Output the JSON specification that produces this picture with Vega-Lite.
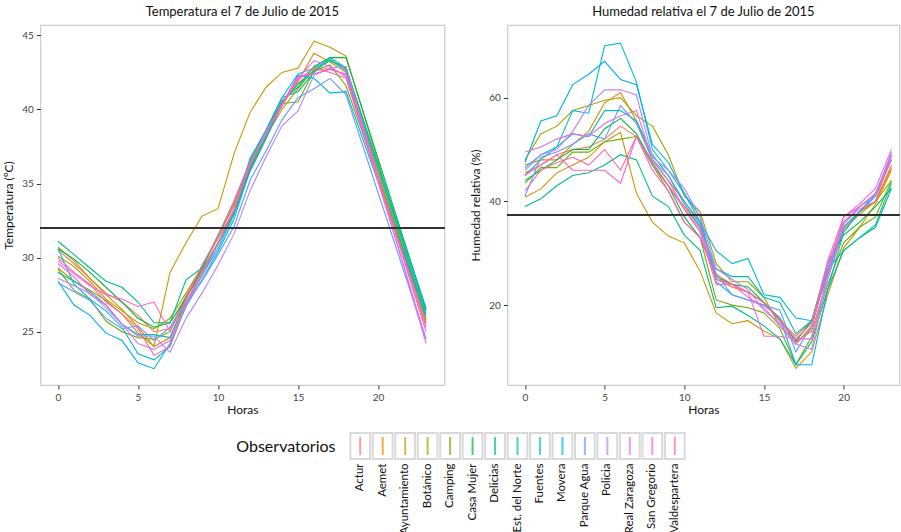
{
  "$schema": "https://vega.github.io/schema/vega-lite/v6.json",
  "background": "white",
  "padding": {"left": 2, "top": 5, "right": 0, "bottom": 0},
  "data": {"values": [
{"s":"Actur","h":0,"t":30.5,"r":45.5},{"s":"Actur","h":1,"t":29.6,"r":47},{"s":"Actur","h":2,"t":28.6,"r":49},{"s":"Actur","h":3,"t":27.6,"r":50},{"s":"Actur","h":4,"t":27.0,"r":50.5},{"s":"Actur","h":5,"t":26.1,"r":52},{"s":"Actur","h":6,"t":25.0,"r":54.5},{"s":"Actur","h":7,"t":25.2,"r":52.5},{"s":"Actur","h":8,"t":27.4,"r":47},{"s":"Actur","h":9,"t":29.4,"r":43},{"s":"Actur","h":10,"t":31.4,"r":39},{"s":"Actur","h":11,"t":33.6,"r":35},{"s":"Actur","h":12,"t":36.3,"r":26},{"s":"Actur","h":13,"t":38.6,"r":24},{"s":"Actur","h":14,"t":40.5,"r":22.5},{"s":"Actur","h":15,"t":41.8,"r":20.5},{"s":"Actur","h":16,"t":42.6,"r":17},{"s":"Actur","h":17,"t":42.8,"r":14},{"s":"Actur","h":18,"t":42.3,"r":17},{"s":"Actur","h":19,"r":26},{"s":"Actur","h":20,"r":35},{"s":"Actur","h":21,"r":38},{"s":"Actur","h":22,"r":40},{"s":"Actur","h":23,"t":25.3,"r":47},
{"s":"Aemet","h":0,"t":30.7,"r":47},{"s":"Aemet","h":1,"t":29.8,"r":48},{"s":"Aemet","h":2,"t":28.6,"r":48},{"s":"Aemet","h":3,"t":27.5,"r":51},{"s":"Aemet","h":4,"t":26.5,"r":53.5},{"s":"Aemet","h":5,"t":25.3,"r":59},{"s":"Aemet","h":6,"t":24.0,"r":61},{"s":"Aemet","h":7,"t":24.6,"r":55.5},{"s":"Aemet","h":8,"t":27.2,"r":48},{"s":"Aemet","h":9,"t":29.3,"r":44},{"s":"Aemet","h":10,"t":31.5,"r":40},{"s":"Aemet","h":11,"t":33.5,"r":36},{"s":"Aemet","h":12,"t":36.5,"r":25},{"s":"Aemet","h":13,"t":38.5,"r":23.5},{"s":"Aemet","h":14,"t":40.4,"r":22.5},{"s":"Aemet","h":15,"t":41.9,"r":20.5},{"s":"Aemet","h":16,"t":43.8,"r":17.5},{"s":"Aemet","h":17,"t":43.2,"r":13},{"s":"Aemet","h":18,"t":42.5,"r":15},{"s":"Aemet","h":19,"r":25},{"s":"Aemet","h":20,"r":34.5},{"s":"Aemet","h":21,"r":37.5},{"s":"Aemet","h":22,"r":40},{"s":"Aemet","h":23,"t":25.6,"r":46.5},
{"s":"Ayuntamiento","h":0,"t":29.3,"r":40.8},{"s":"Ayuntamiento","h":1,"t":28.4,"r":42.4},{"s":"Ayuntamiento","h":2,"t":27.8,"r":45.5},{"s":"Ayuntamiento","h":3,"t":27.1,"r":47},{"s":"Ayuntamiento","h":4,"t":26.2,"r":48.5},{"s":"Ayuntamiento","h":5,"t":24.9,"r":51.5},{"s":"Ayuntamiento","h":6,"t":24.0,"r":53.3},{"s":"Ayuntamiento","h":7,"t":29.0,"r":41.5},{"s":"Ayuntamiento","h":8,"t":31.0,"r":36},{"s":"Ayuntamiento","h":9,"t":32.8,"r":33.3},{"s":"Ayuntamiento","h":10,"t":33.3,"r":32},{"s":"Ayuntamiento","h":11,"t":37.0,"r":26.5},{"s":"Ayuntamiento","h":12,"t":39.8,"r":18.5},{"s":"Ayuntamiento","h":13,"t":41.5,"r":16.4},{"s":"Ayuntamiento","h":14,"t":42.5,"r":17},{"s":"Ayuntamiento","h":15,"t":42.8,"r":15},{"s":"Ayuntamiento","h":16,"t":44.6,"r":13.5},{"s":"Ayuntamiento","h":17,"t":44.2,"r":7.8},{"s":"Ayuntamiento","h":18,"t":43.6,"r":11},{"s":"Ayuntamiento","h":19,"r":22},{"s":"Ayuntamiento","h":20,"r":31},{"s":"Ayuntamiento","h":21,"r":35},{"s":"Ayuntamiento","h":22,"r":39.5},{"s":"Ayuntamiento","h":23,"t":25.8,"r":46},
{"s":"Botánico","h":0,"t":30.1,"r":48},{"s":"Botánico","h":1,"t":29.4,"r":53},{"s":"Botánico","h":2,"t":28.4,"r":54.5},{"s":"Botánico","h":3,"t":27.2,"r":57.5},{"s":"Botánico","h":4,"t":26.4,"r":58.5},{"s":"Botánico","h":5,"t":25.6,"r":59.5},{"s":"Botánico","h":6,"t":25.2,"r":60},{"s":"Botánico","h":7,"t":25.9,"r":56.5},{"s":"Botánico","h":8,"t":27.6,"r":54.5},{"s":"Botánico","h":9,"t":29.4,"r":49},{"s":"Botánico","h":10,"t":31.3,"r":41},{"s":"Botánico","h":11,"t":33.2,"r":38},{"s":"Botánico","h":12,"t":36.0,"r":28},{"s":"Botánico","h":13,"t":38.2,"r":24.5},{"s":"Botánico","h":14,"t":40.0,"r":24.5},{"s":"Botánico","h":15,"t":41.4,"r":21.5},{"s":"Botánico","h":16,"t":42.7,"r":16},{"s":"Botánico","h":17,"t":43.3,"r":12.5},{"s":"Botánico","h":18,"t":42.7,"r":16},{"s":"Botánico","h":19,"r":27},{"s":"Botánico","h":20,"r":35},{"s":"Botánico","h":21,"r":38},{"s":"Botánico","h":22,"r":40},{"s":"Botánico","h":23,"t":25.8,"r":44},
{"s":"Camping","h":0,"t":29.2,"r":43.5},{"s":"Camping","h":1,"t":27.8,"r":46.5},{"s":"Camping","h":2,"t":27.2,"r":46.5},{"s":"Camping","h":3,"t":25.7,"r":49.5},{"s":"Camping","h":4,"t":25.0,"r":49.5},{"s":"Camping","h":5,"t":24.6,"r":51.5},{"s":"Camping","h":6,"t":24.5,"r":52},{"s":"Camping","h":7,"t":25.0,"r":52.5},{"s":"Camping","h":8,"t":27.3,"r":47},{"s":"Camping","h":9,"t":29.0,"r":42},{"s":"Camping","h":10,"t":30.9,"r":36},{"s":"Camping","h":11,"t":33.0,"r":33},{"s":"Camping","h":12,"t":35.8,"r":21},{"s":"Camping","h":13,"t":38.0,"r":20},{"s":"Camping","h":14,"t":40.4,"r":19.5},{"s":"Camping","h":15,"t":40.5,"r":18.5},{"s":"Camping","h":16,"t":42.6,"r":15.5},{"s":"Camping","h":17,"t":43.0,"r":8.5},{"s":"Camping","h":18,"t":41.6,"r":14},{"s":"Camping","h":19,"r":24},{"s":"Camping","h":20,"r":32},{"s":"Camping","h":21,"r":35},{"s":"Camping","h":22,"r":37},{"s":"Camping","h":23,"t":26.2,"r":44},
{"s":"Casa Mujer","h":0,"t":30.6,"r":44},{"s":"Casa Mujer","h":1,"t":29.9,"r":46},{"s":"Casa Mujer","h":2,"t":29.0,"r":48},{"s":"Casa Mujer","h":3,"t":28.0,"r":50},{"s":"Casa Mujer","h":4,"t":27.0,"r":50},{"s":"Casa Mujer","h":5,"t":25.9,"r":54},{"s":"Casa Mujer","h":6,"t":25.3,"r":56},{"s":"Casa Mujer","h":7,"t":25.6,"r":53},{"s":"Casa Mujer","h":8,"t":27.3,"r":47.5},{"s":"Casa Mujer","h":9,"t":29.2,"r":43},{"s":"Casa Mujer","h":10,"t":31.0,"r":37},{"s":"Casa Mujer","h":11,"t":33.1,"r":33},{"s":"Casa Mujer","h":12,"t":36.1,"r":25.5},{"s":"Casa Mujer","h":13,"t":38.5,"r":24},{"s":"Casa Mujer","h":14,"t":40.6,"r":23.5},{"s":"Casa Mujer","h":15,"t":41.5,"r":20.5},{"s":"Casa Mujer","h":16,"t":42.9,"r":17},{"s":"Casa Mujer","h":17,"t":43.5,"r":13},{"s":"Casa Mujer","h":18,"t":43.5,"r":17},{"s":"Casa Mujer","h":19,"r":28},{"s":"Casa Mujer","h":20,"r":33.5},{"s":"Casa Mujer","h":21,"r":36},{"s":"Casa Mujer","h":22,"r":39},{"s":"Casa Mujer","h":23,"t":26.5,"r":42.5},
{"s":"Delicias","h":0,"t":31.1,"r":39},{"s":"Delicias","h":1,"t":30.2,"r":40.5},{"s":"Delicias","h":2,"t":29.3,"r":43},{"s":"Delicias","h":3,"t":28.4,"r":45},{"s":"Delicias","h":4,"t":28.0,"r":45.5},{"s":"Delicias","h":5,"t":27.0,"r":47},{"s":"Delicias","h":6,"t":25.6,"r":49},{"s":"Delicias","h":7,"t":25.6,"r":48},{"s":"Delicias","h":8,"t":28.5,"r":41},{"s":"Delicias","h":9,"t":29.3,"r":39},{"s":"Delicias","h":10,"t":31.5,"r":33.5},{"s":"Delicias","h":11,"t":33.8,"r":30.5},{"s":"Delicias","h":12,"t":36.5,"r":19.5},{"s":"Delicias","h":13,"t":38.6,"r":19.8},{"s":"Delicias","h":14,"t":40.8,"r":18},{"s":"Delicias","h":15,"t":41.2,"r":16},{"s":"Delicias","h":16,"t":42.5,"r":13.5},{"s":"Delicias","h":17,"t":43.5,"r":8.5},{"s":"Delicias","h":18,"t":42.8,"r":13},{"s":"Delicias","h":19,"r":23},{"s":"Delicias","h":20,"r":30.5},{"s":"Delicias","h":21,"r":33},{"s":"Delicias","h":22,"r":35},{"s":"Delicias","h":23,"t":26.4,"r":42.5},
{"s":"Est. del Norte","h":0,"t":29.0,"r":45},{"s":"Est. del Norte","h":1,"t":28.4,"r":48},{"s":"Est. del Norte","h":2,"t":27.7,"r":50.5},{"s":"Est. del Norte","h":3,"t":26.8,"r":53},{"s":"Est. del Norte","h":4,"t":25.5,"r":52.5},{"s":"Est. del Norte","h":5,"t":24.8,"r":57.5},{"s":"Est. del Norte","h":6,"t":24.8,"r":57.5},{"s":"Est. del Norte","h":7,"t":24.6,"r":55.5},{"s":"Est. del Norte","h":8,"t":27.0,"r":49},{"s":"Est. del Norte","h":9,"t":28.8,"r":45},{"s":"Est. del Norte","h":10,"t":30.9,"r":39.5},{"s":"Est. del Norte","h":11,"t":32.9,"r":35},{"s":"Est. del Norte","h":12,"t":35.9,"r":27},{"s":"Est. del Norte","h":13,"t":38.2,"r":25.5},{"s":"Est. del Norte","h":14,"t":40.5,"r":25.5},{"s":"Est. del Norte","h":15,"t":41.7,"r":21.5},{"s":"Est. del Norte","h":16,"t":42.6,"r":20.5},{"s":"Est. del Norte","h":17,"t":43.3,"r":14.5},{"s":"Est. del Norte","h":18,"t":42.8,"r":17},{"s":"Est. del Norte","h":19,"r":27},{"s":"Est. del Norte","h":20,"r":30.5},{"s":"Est. del Norte","h":21,"r":33},{"s":"Est. del Norte","h":22,"r":35.5},{"s":"Est. del Norte","h":23,"t":26.6,"r":43.5},
{"s":"Fuentes","h":0,"t":30.6,"r":46.5},{"s":"Fuentes","h":1,"t":28.2,"r":49},{"s":"Fuentes","h":2,"t":27.2,"r":50.5},{"s":"Fuentes","h":3,"t":26.4,"r":57.5},{"s":"Fuentes","h":4,"t":25.3,"r":57},{"s":"Fuentes","h":5,"t":23.5,"r":70},{"s":"Fuentes","h":6,"t":23.1,"r":70.5},{"s":"Fuentes","h":7,"t":24.0,"r":63},{"s":"Fuentes","h":8,"t":26.8,"r":50},{"s":"Fuentes","h":9,"t":28.8,"r":46},{"s":"Fuentes","h":10,"t":30.6,"r":41.5},{"s":"Fuentes","h":11,"t":32.9,"r":36},{"s":"Fuentes","h":12,"t":36.7,"r":30.5},{"s":"Fuentes","h":13,"t":38.6,"r":28},{"s":"Fuentes","h":14,"t":40.8,"r":29},{"s":"Fuentes","h":15,"t":42.4,"r":22},{"s":"Fuentes","h":16,"t":42.8,"r":21.5},{"s":"Fuentes","h":17,"t":43.4,"r":17.5},{"s":"Fuentes","h":18,"t":42.6,"r":17},{"s":"Fuentes","h":19,"r":26},{"s":"Fuentes","h":20,"r":35},{"s":"Fuentes","h":21,"r":38},{"s":"Fuentes","h":22,"r":41},{"s":"Fuentes","h":23,"t":26.2,"r":48},
{"s":"Movera","h":0,"t":28.4,"r":47.5},{"s":"Movera","h":1,"t":26.8,"r":55.5},{"s":"Movera","h":2,"t":26.1,"r":56.5},{"s":"Movera","h":3,"t":24.9,"r":62.5},{"s":"Movera","h":4,"t":24.4,"r":64.5},{"s":"Movera","h":5,"t":22.9,"r":67},{"s":"Movera","h":6,"t":22.5,"r":63.5},{"s":"Movera","h":7,"t":24.2,"r":62.5},{"s":"Movera","h":8,"t":26.7,"r":51},{"s":"Movera","h":9,"t":28.5,"r":47.5},{"s":"Movera","h":10,"t":30.4,"r":41.5},{"s":"Movera","h":11,"t":32.6,"r":37},{"s":"Movera","h":12,"t":35.9,"r":24.5},{"s":"Movera","h":13,"t":38.1,"r":22},{"s":"Movera","h":14,"t":40.3,"r":21},{"s":"Movera","h":15,"t":42.3,"r":20},{"s":"Movera","h":16,"t":42.1,"r":17.5},{"s":"Movera","h":17,"t":41.1,"r":8.5},{"s":"Movera","h":18,"t":41.2,"r":8.5},{"s":"Movera","h":19,"r":23},{"s":"Movera","h":20,"r":34},{"s":"Movera","h":21,"r":38},{"s":"Movera","h":22,"r":41.5},{"s":"Movera","h":23,"t":26.0,"r":49},
{"s":"Parque Agua","h":0,"t":28.3,"r":41},{"s":"Parque Agua","h":1,"t":27.7,"r":48.5},{"s":"Parque Agua","h":2,"t":27.1,"r":49.5},{"s":"Parque Agua","h":3,"t":25.9,"r":51},{"s":"Parque Agua","h":4,"t":25.2,"r":53},{"s":"Parque Agua","h":5,"t":25.4,"r":52},{"s":"Parque Agua","h":6,"t":24.4,"r":58.5},{"s":"Parque Agua","h":7,"t":25.3,"r":55},{"s":"Parque Agua","h":8,"t":26.9,"r":48},{"s":"Parque Agua","h":9,"t":28.4,"r":45},{"s":"Parque Agua","h":10,"t":30.2,"r":40},{"s":"Parque Agua","h":11,"t":32.1,"r":35.5},{"s":"Parque Agua","h":12,"t":35.2,"r":26},{"s":"Parque Agua","h":13,"t":37.2,"r":22},{"s":"Parque Agua","h":14,"t":39.3,"r":21},{"s":"Parque Agua","h":15,"t":40.8,"r":20},{"s":"Parque Agua","h":16,"t":41.4,"r":19},{"s":"Parque Agua","h":17,"t":42.1,"r":11},{"s":"Parque Agua","h":18,"t":41.0,"r":16},{"s":"Parque Agua","h":19,"r":27},{"s":"Parque Agua","h":20,"r":36},{"s":"Parque Agua","h":21,"r":39},{"s":"Parque Agua","h":22,"r":41.5},{"s":"Parque Agua","h":23,"t":24.5,"r":48.5},
{"s":"Policia","h":0,"t":28.6,"r":46},{"s":"Policia","h":1,"t":28.1,"r":49},{"s":"Policia","h":2,"t":27.6,"r":50},{"s":"Policia","h":3,"t":26.6,"r":53.5},{"s":"Policia","h":4,"t":25.5,"r":58.5},{"s":"Policia","h":5,"t":24.7,"r":61.5},{"s":"Policia","h":6,"t":24.7,"r":61.5},{"s":"Policia","h":7,"t":23.6,"r":60.5},{"s":"Policia","h":8,"t":25.9,"r":48.5},{"s":"Policia","h":9,"t":27.6,"r":46},{"s":"Policia","h":10,"t":29.5,"r":42.5},{"s":"Policia","h":11,"t":31.6,"r":37},{"s":"Policia","h":12,"t":34.5,"r":27},{"s":"Policia","h":13,"t":36.8,"r":25},{"s":"Policia","h":14,"t":38.9,"r":23},{"s":"Policia","h":15,"t":39.9,"r":19},{"s":"Policia","h":16,"t":42.3,"r":16.5},{"s":"Policia","h":17,"t":42.8,"r":12.5},{"s":"Policia","h":18,"t":42.9,"r":11.5},{"s":"Policia","h":19,"r":25},{"s":"Policia","h":20,"r":35.5},{"s":"Policia","h":21,"r":39},{"s":"Policia","h":22,"r":41},{"s":"Policia","h":23,"t":24.2,"r":49.5},
{"s":"Real Zaragoza","h":0,"t":29.6,"r":49.5},{"s":"Real Zaragoza","h":1,"t":28.7,"r":50.5},{"s":"Real Zaragoza","h":2,"t":27.5,"r":52},{"s":"Real Zaragoza","h":3,"t":26.8,"r":53},{"s":"Real Zaragoza","h":4,"t":25.5,"r":52.5},{"s":"Real Zaragoza","h":5,"t":24.2,"r":55},{"s":"Real Zaragoza","h":6,"t":23.8,"r":56.5},{"s":"Real Zaragoza","h":7,"t":24.4,"r":57.5},{"s":"Real Zaragoza","h":8,"t":26.8,"r":48},{"s":"Real Zaragoza","h":9,"t":28.8,"r":44},{"s":"Real Zaragoza","h":10,"t":30.9,"r":38.5},{"s":"Real Zaragoza","h":11,"t":33.2,"r":34},{"s":"Real Zaragoza","h":12,"t":36.3,"r":24},{"s":"Real Zaragoza","h":13,"t":38.5,"r":24},{"s":"Real Zaragoza","h":14,"t":40.4,"r":22.5},{"s":"Real Zaragoza","h":15,"t":42.1,"r":14},{"s":"Real Zaragoza","h":16,"t":43.3,"r":14},{"s":"Real Zaragoza","h":17,"t":42.9,"r":13.5},{"s":"Real Zaragoza","h":18,"t":42.2,"r":13.5},{"s":"Real Zaragoza","h":19,"r":26},{"s":"Real Zaragoza","h":20,"r":37},{"s":"Real Zaragoza","h":21,"r":39.5},{"s":"Real Zaragoza","h":22,"r":42.5},{"s":"Real Zaragoza","h":23,"t":24.5,"r":50},
{"s":"San Gregorio","h":0,"t":29.8,"r":45},{"s":"San Gregorio","h":1,"t":28.9,"r":47},{"s":"San Gregorio","h":2,"t":28.1,"r":49},{"s":"San Gregorio","h":3,"t":27.5,"r":46},{"s":"San Gregorio","h":4,"t":27.2,"r":46},{"s":"San Gregorio","h":5,"t":26.7,"r":46},{"s":"San Gregorio","h":6,"t":27.0,"r":43.5},{"s":"San Gregorio","h":7,"t":25.0,"r":52.5},{"s":"San Gregorio","h":8,"t":27.2,"r":46},{"s":"San Gregorio","h":9,"t":29.5,"r":42},{"s":"San Gregorio","h":10,"t":31.4,"r":36},{"s":"San Gregorio","h":11,"t":33.8,"r":33},{"s":"San Gregorio","h":12,"t":36.4,"r":25},{"s":"San Gregorio","h":13,"t":38.4,"r":24},{"s":"San Gregorio","h":14,"t":40.4,"r":21.5},{"s":"San Gregorio","h":15,"t":42.2,"r":19.5},{"s":"San Gregorio","h":16,"t":42.4,"r":16},{"s":"San Gregorio","h":17,"t":42.7,"r":12.5},{"s":"San Gregorio","h":18,"t":42.4,"r":15.5},{"s":"San Gregorio","h":19,"r":28},{"s":"San Gregorio","h":20,"r":36},{"s":"San Gregorio","h":21,"r":38.5},{"s":"San Gregorio","h":22,"r":40},{"s":"San Gregorio","h":23,"t":25.0,"r":49},
{"s":"Valdespartera","h":0,"t":30.0,"r":42},{"s":"Valdespartera","h":1,"t":29.0,"r":46},{"s":"Valdespartera","h":2,"t":28.2,"r":47.5},{"s":"Valdespartera","h":3,"t":27.0,"r":48.5},{"s":"Valdespartera","h":4,"t":26.2,"r":47},{"s":"Valdespartera","h":5,"t":25.2,"r":50},{"s":"Valdespartera","h":6,"t":23.4,"r":46},{"s":"Valdespartera","h":7,"t":24.0,"r":52.5},{"s":"Valdespartera","h":8,"t":26.9,"r":47},{"s":"Valdespartera","h":9,"t":29.1,"r":43},{"s":"Valdespartera","h":10,"t":31.0,"r":38.5},{"s":"Valdespartera","h":11,"t":33.3,"r":34.5},{"s":"Valdespartera","h":12,"t":36.2,"r":25},{"s":"Valdespartera","h":13,"t":38.5,"r":24},{"s":"Valdespartera","h":14,"t":40.2,"r":22.5},{"s":"Valdespartera","h":15,"t":42.0,"r":20.5},{"s":"Valdespartera","h":16,"t":42.8,"r":17},{"s":"Valdespartera","h":17,"t":42.5,"r":13.5},{"s":"Valdespartera","h":18,"t":42.1,"r":16.5},{"s":"Valdespartera","h":19,"r":28.5},{"s":"Valdespartera","h":20,"r":37},{"s":"Valdespartera","h":21,"r":39},{"s":"Valdespartera","h":22,"r":41.5},{"s":"Valdespartera","h":23,"t":25.4,"r":48}
  ]},
  "vconcat": [
    {
      "hconcat": [
        {
          "title": "Temperatura el 7 de Julio de 2015",
          "width": 404,
          "height": 360,
          "transform": [{"filter": "isValid(datum.t)"}],
          "layer": [
            {
              "mark": {"type": "line", "strokeWidth": 1.1},
              "encoding": {
                "x": {"field": "h", "type": "quantitative", "title": "Horas", "scale": {"domain": [-1.1, 24.15], "nice": false}, "axis": {"values": [0, 5, 10, 15, 20]}},
                "y": {"field": "t", "type": "quantitative", "title": "Temperatura (ºC)", "scale": {"domain": [21.4, 45.7], "nice": false, "zero": false}, "axis": {"values": [25, 30, 35, 40, 45]}},
                "color": {"field": "s", "type": "nominal", "legend": null}
              }
            },
            {
              "mark": {"type": "rule", "color": "#333", "strokeWidth": 1.2},
              "encoding": {"y": {"datum": 32}}
            }
          ]
        },
        {
          "title": "Humedad relativa el 7 de Julio de 2015",
          "width": 392,
          "height": 360,
          "layer": [
            {
              "mark": {"type": "line", "strokeWidth": 1.1},
              "encoding": {
                "x": {"field": "h", "type": "quantitative", "title": "Horas", "scale": {"domain": [-1.1, 23.5], "nice": false}, "axis": {"values": [0, 5, 10, 15, 20]}},
                "y": {"field": "r", "type": "quantitative", "title": "Humedad relativa (%)", "scale": {"domain": [4.6, 74], "nice": false, "zero": false}, "axis": {"values": [20, 40, 60]}},
                "color": {"field": "s", "type": "nominal", "legend": null}
              }
            },
            {
              "mark": {"type": "rule", "color": "#333", "strokeWidth": 1.2},
              "encoding": {"y": {"datum": 37.3}}
            }
          ]
        }
      ],
      "spacing": 22
    },
    {
      "width": 431,
      "height": 26,
      "transform": [{"filter": "datum.h == 0"}],
      "view": {"stroke": null},
      "encoding": {
        "x": {"field": "s", "type": "nominal", "title": null, "scale": {"range": [94, 431], "paddingInner": 0.12, "paddingOuter": 0.06}, "axis": {"labelAngle": 270, "labelAlign": "right", "labelBaseline": "middle", "labelFontSize": 11.5, "labelColor": "#111", "ticks": false, "domain": false, "labelPadding": 4}},
        "y": {"datum": "k", "type": "nominal", "axis": {"title": "Observatorios", "titleAngle": 0, "titleAlign": "right", "titleBaseline": "middle", "titleFontSize": 16, "titleX": 80, "titleY": 13, "labels": false, "ticks": false, "domain": false}}
      },
      "layer": [
        {
          "mark": {"type": "rect", "fill": "white", "stroke": "#d9d9d9", "strokeWidth": 2}
        },
        {
          "mark": {"type": "tick", "orient": "vertical", "size": 18, "thickness": 2},
          "encoding": {"color": {"field": "s", "type": "nominal", "legend": null}}
        }
      ]
    }
  ],
  "spacing": 16,
  "center": true,
  "config": {
    "font": "Lato",
    "view": {"stroke": "#cccccc", "strokeWidth": 1.2},
    "title": {"fontSize": 13, "fontWeight": "normal", "color": "#111", "offset": 6},
    "axis": {"grid": false, "domain": false, "tickColor": "#333", "tickSize": 4, "labelFontSize": 10, "labelColor": "#444", "titleFontSize": 12, "titleFontWeight": "normal", "titleColor": "#111", "labelPadding": 3},
    "axisX": {"titlePadding": 2},
    "axisY": {"titlePadding": 6},
    "range": {"category": ["#F8766D", "#E58700", "#C99800", "#A3A500", "#6BB100", "#00BA38", "#00BF7D", "#00C0AF", "#00BCD8", "#00B0F6", "#619CFF", "#B983FF", "#E76BF3", "#FD61D1", "#FF67A4"]}
  }
}
